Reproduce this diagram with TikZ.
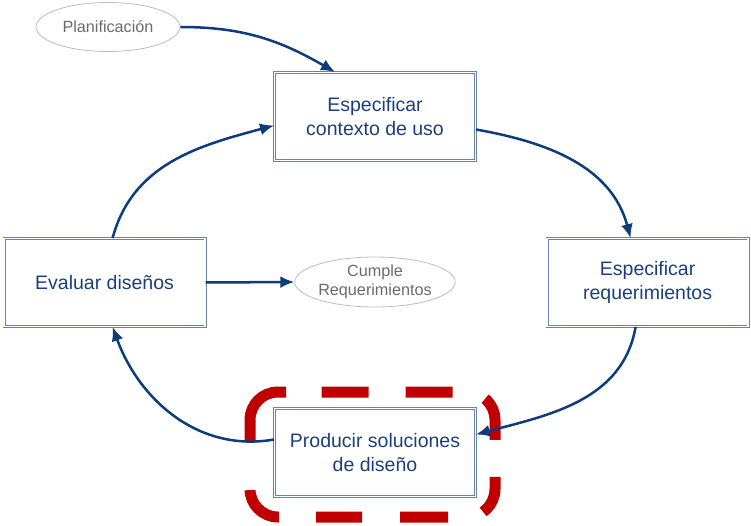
\documentclass[tikz,border=0pt]{standalone}
\usepackage{fontspec}
\setmainfont{Liberation Sans}
\usetikzlibrary{arrows.meta}
\usetikzlibrary{shapes.geometric}
\definecolor{flowblue}{HTML}{0E3B7B}
\definecolor{textblue}{HTML}{1C3F7C}
\definecolor{boxline}{HTML}{6A83A7}
\definecolor{notegrey}{HTML}{BDBDBD}
\definecolor{notetext}{HTML}{6B6B6B}
\definecolor{markred}{HTML}{C00000}
\tikzset{stage/.style={draw=boxline, line width=0.9pt, double=white, double distance=1.4pt,
  minimum width=201pt, minimum height=88pt, align=center, text=textblue,
  font=\fontsize{19.5}{24}\selectfont},
% grey ovals outside the cycle
note/.style={ellipse, draw=notegrey, line width=0.8pt, inner sep=0pt, align=center,
  text=notetext, font=\fontsize{16.2}{19}\selectfont},
flow/.style={draw=flowblue, line width=2.5pt, -{Latex[length=14pt,width=12pt]}}}

\begin{document}
\begin{tikzpicture}[x=1pt,y=1pt]
\useasboundingbox (0,0) rectangle (751,-526);

% cycle
\node[stage] (ctx) at (375,-116.5) {Especificar\\contexto de uso};
\node[stage] (req) at (647.6,-282.5) {Especificar\\requerimientos};
\node[stage] (prod) at (375,-452.5) {Producir soluciones\\de diseño};
\node[stage] (eval) at (104.6,-282.5) {Evaluar diseños};

%ovals
\node[note, minimum width=144pt, minimum height=49pt] (plan) at (108,-27) {Planificación};
\node[note, minimum width=158pt, minimum height=50pt] (cumple) at (375,-282) {Cumple\\Requerimientos};

% highlight round the third stage
\draw[markred, line width=11pt, rounded corners=28pt,
  dash pattern=on 74pt off 48pt on 44pt off 37pt on 46pt off 38pt on 48pt off 36pt
    on 39pt off 37pt on 44pt off 34pt on 47pt off 37pt on 47pt off 36pt]
  (286,-392) -- (250,-392) -- (250,-517) -- (495,-517) -- (495,-392) -- (286,-392);

\draw[flow] (plan.east) to[out=0, in=150] ([xshift=-40pt]ctx.north);
\draw[flow] ([yshift=-13pt]ctx.east) to[out=-10, in=105] ([xshift=-17pt]req.north);
\draw[flow] ([xshift=-12pt]req.south) to[out=-100, in=15] ([yshift=18pt]prod.east);
\draw[flow] ([yshift=13pt]prod.west) to[out=190, in=-70] ([xshift=8pt]eval.south);
\draw[flow] ([xshift=8pt]eval.north) to[out=75, in=195] ([yshift=-9pt]ctx.west);
\draw[flow] (eval.east) -- (cumple.west);

\end{tikzpicture}
\end{document}
